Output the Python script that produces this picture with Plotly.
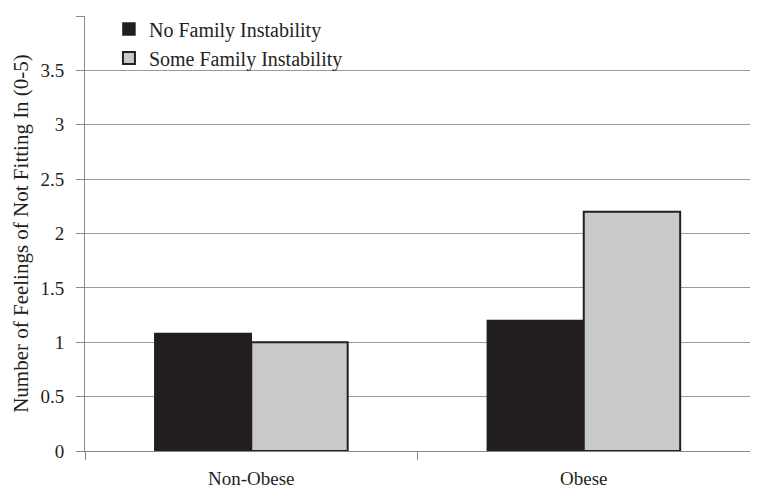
import plotly.graph_objects as go

categories = ["Non-Obese", "Obese"]
no_instability = [1.08, 1.2]
some_instability = [1.0, 2.2]
series_names = ["No Family Instability", "Some Family Instability"]
y_tickvals = [0, 0.5, 1, 1.5, 2, 2.5, 3, 3.5, 4]
y_ticktext = ["0", "0.5", "1", "1.5", "2", "2.5", "3", "3.5", "4"]

font_family = "Times New Roman"

fig = go.Figure()
fig.add_trace(go.Bar(
    x=categories, y=no_instability, name=series_names[0],
    marker=dict(color="#231f20", line=dict(color="#231f20", width=1.5)),
))
fig.add_trace(go.Bar(
    x=categories, y=some_instability, name=series_names[1],
    marker=dict(color="#c8c9cb", line=dict(color="#231f20", width=2)),
))

fig.update_layout(
    width=742, height=480,
    margin=dict(l=77, r=0, t=8, b=37),
    paper_bgcolor="white", plot_bgcolor="white",
    barmode="group", bargap=0.42, bargroupgap=0,
    font=dict(family=font_family, size=19, color="#231f20"),
    showlegend=True,
    legend=dict(
        x=0.036, y=1.015, xanchor="left", yanchor="top",
        font=dict(family=font_family, size=20, color="#231f20"),
        bgcolor="rgba(0,0,0,0)", tracegroupgap=0, itemwidth=30,
    ),
)
fig.update_xaxes(
    showgrid=False, showline=True, linecolor="#888888", linewidth=1,
    ticks="outside", tickson="boundaries", ticklen=8, tickcolor="#888888",
    tickfont=dict(family=font_family, size=19, color="#231f20"),
    ticklabelstandoff=10,
    zeroline=False, automargin=False,
)
fig.update_yaxes(
    range=[0, 4], tickvals=y_tickvals, ticktext=y_ticktext,
    showgrid=True, gridcolor="#9a9a9a", gridwidth=1,
    showline=True, linecolor="#888888", linewidth=1,
    ticks="outside", ticklen=8, tickcolor="#888888",
    tickfont=dict(family=font_family, size=19, color="#231f20"),
    ticklabelstandoff=8,
    title=dict(text="Number of Feelings of Not Fitting In (0-5)",
               font=dict(family=font_family, size=21, color="#231f20"), standoff=6),
    zeroline=False, automargin=False,
)

fig.write_html("out.html")
